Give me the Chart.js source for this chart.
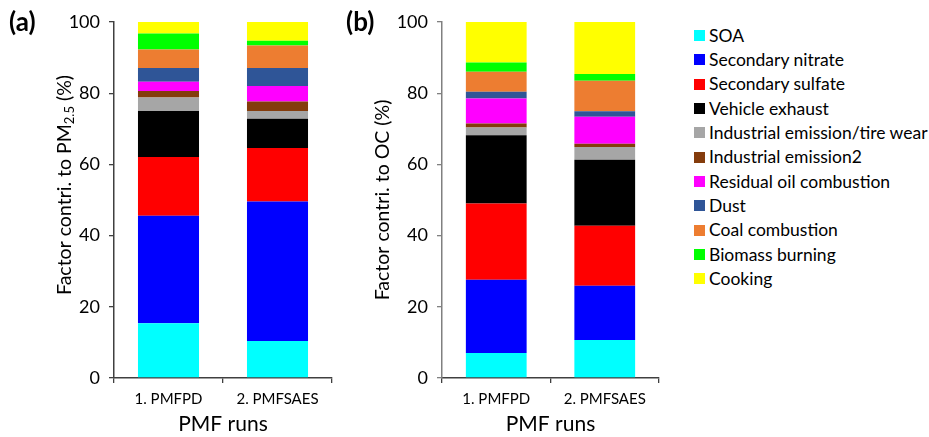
<!DOCTYPE html>
<html><head><meta charset="utf-8">
<script src="https://cdn.jsdelivr.net/npm/chart.js@4/dist/chart.umd.min.js"></script>
<style>
body{margin:0;background:#fff;width:929px;height:437px;overflow:hidden;position:relative;font-family:Lato,sans-serif}
#ca{position:absolute;left:0;top:0}
#cb{position:absolute;left:345px;top:0}
#legend{position:absolute;left:694px;top:23.5px;margin:0;padding:0;list-style:none}
#legend li{height:24.3px;display:flex;align-items:center;font-size:17.5px;color:#000;white-space:nowrap;line-height:1}
#legend .box{width:11px;height:11px;margin-right:4px;display:inline-block;flex:none}
</style></head><body>
<canvas id="ca" width="345" height="437"></canvas>
<canvas id="cb" width="340" height="437"></canvas>
<ul id="legend"></ul>
<script>
// ---- data ----
const categories = ['1. PMFPD', '2. PMFSAES'];
const factorNames = ['SOA', 'Secondary nitrate', 'Secondary sulfate', 'Vehicle exhaust',
  'Industrial emission/tire wear', 'Industrial emission2', 'Residual oil combustion',
  'Dust', 'Coal combustion', 'Biomass burning', 'Cooking'];
// contributions to PM2.5 (%), per PMF run, in factor order
const pmRun1 = [15.4, 30.2, 16.5, 12.9, 3.8, 1.8, 2.6, 3.9, 5.2, 4.5, 3.2];
const pmRun2 = [10.4, 39.2, 15.0, 8.2, 2.2, 2.7, 4.3, 5.1, 6.3, 1.3, 5.3];
// contributions to OC (%)
const ocRun1 = [7.0, 20.6, 21.4, 19.2, 2.2, 1.1, 7.0, 1.9, 5.6, 2.6, 11.4];
const ocRun2 = [10.7, 15.2, 16.9, 18.5, 3.6, 0.9, 7.6, 1.5, 8.6, 1.9, 14.6];
const yTickValues = [0, 20, 40, 60, 80, 100];

// ---- styles ----
const factorColors = ['#00FFFF', '#0000FF', '#FF0000', '#000000', '#A6A6A6', '#843C0C',
  '#FF00FF', '#2F5597', '#ED7D31', '#00FF00', '#FFFF00'];

Chart.defaults.font.family = 'Lato';
Chart.defaults.color = '#000';

function makeDatasets(run1, run2) {
  return factorNames.map((name, i) => ({
    label: name,
    data: [run1[i], run2[i]],
    backgroundColor: factorColors[i],
    borderWidth: 0,
    categoryPercentage: 1.0,
    barPercentage: 0.56
  }));
}

const titlePlugin = {
  id: 'panelTitles',
  afterDraw(chart, args, opts) {
    const ctx = chart.ctx;
    ctx.save();
    ctx.fillStyle = '#000';
    ctx.textBaseline = 'middle';
    ctx.textAlign = 'left';
    ctx.font = 'bold 26px Lato';
    ctx.fillText(opts.panel, opts.panelX, opts.panelY);
    // rotated y title with optional subscript
    ctx.translate(opts.titleX, opts.titleY);
    ctx.rotate(-Math.PI / 2);
    const mainFont = '19.5px Lato', subFont = '13px Lato';
    let total = 0;
    opts.parts.forEach(p => { ctx.font = p.sub ? subFont : mainFont; total += ctx.measureText(p.text).width; });
    let x = -total / 2;
    opts.parts.forEach(p => {
      ctx.font = p.sub ? subFont : mainFont;
      ctx.fillText(p.text, x, p.sub ? 5 : 0);
      x += ctx.measureText(p.text).width;
    });
    ctx.restore();
  }
};

const htmlLegend = {
  id: 'htmlLegend',
  afterUpdate(chart) {
    const ul = document.getElementById('legend');
    ul.innerHTML = '';
    const items = chart.options.plugins.legend.labels.generateLabels(chart);
    items.forEach(item => {
      const li = document.createElement('li');
      const box = document.createElement('span');
      box.className = 'box';
      box.style.background = item.fillStyle;
      const t = document.createElement('span');
      t.textContent = item.text;
      li.appendChild(box); li.appendChild(t);
      ul.appendChild(li);
    });
  }
};

function makeOptions(axisColor, xAxisColor, yWidth, padRight, titleOpts) {
  return {
    responsive: false,
    animation: false,
    devicePixelRatio: 1,
    layout: { padding: { left: 0, right: padRight, top: 22, bottom: 0 } },
    plugins: {
      legend: { display: false },
      tooltip: { enabled: false },
      panelTitles: titleOpts
    },
    scales: {
      x: {
        stacked: true,
        grid: { display: true, offset: true, drawOnChartArea: false, drawTicks: true, tickLength: 5, color: xAxisColor, lineWidth: 1.3 },
        border: { display: true, color: xAxisColor, width: 1.5 },
        ticks: { font: { size: 15 }, color: '#000', padding: 7 },
        title: { display: true, text: 'PMF runs', font: { size: 21 }, color: '#000', padding: { top: 0, bottom: 0 } },
        afterFit: s => { s.height = 59; }
      },
      y: {
        stacked: true,
        min: 0, max: 100,
        afterBuildTicks: s => { s.ticks = yTickValues.map(v => ({ value: v })); },
        grid: { display: true, drawOnChartArea: false, drawTicks: true, tickLength: 5, color: axisColor, lineWidth: 1.3 },
        border: { display: true, color: axisColor, width: 1.5 },
        ticks: { font: { size: 18 }, color: '#000', padding: 9 },
        afterFit: s => { s.width = yWidth; }
      }
    }
  };
}

new Chart(document.getElementById('ca'), {
  type: 'bar',
  data: { labels: categories, datasets: makeDatasets(pmRun1, pmRun2) },
  options: makeOptions('#404040', '#404040', 114, 13, {
    panel: '(a)', panelX: 9, panelY: 23, titleX: 65, titleY: 185,
    parts: [{ text: 'Factor contri. to PM' }, { text: '2.5', sub: true }, { text: ' (%)' }]
  }),
  plugins: [titlePlugin]
});

new Chart(document.getElementById('cb'), {
  type: 'bar',
  data: { labels: categories, datasets: makeDatasets(ocRun1, ocRun2) },
  options: makeOptions('#808080', '#404040', 97, 26, {
    panel: '(b)', panelX: 1, panelY: 23, titleX: 38, titleY: 200,
    parts: [{ text: 'Factor contri. to OC (%)' }]
  }),
  plugins: [titlePlugin, htmlLegend]
});
</script>
</body></html>
